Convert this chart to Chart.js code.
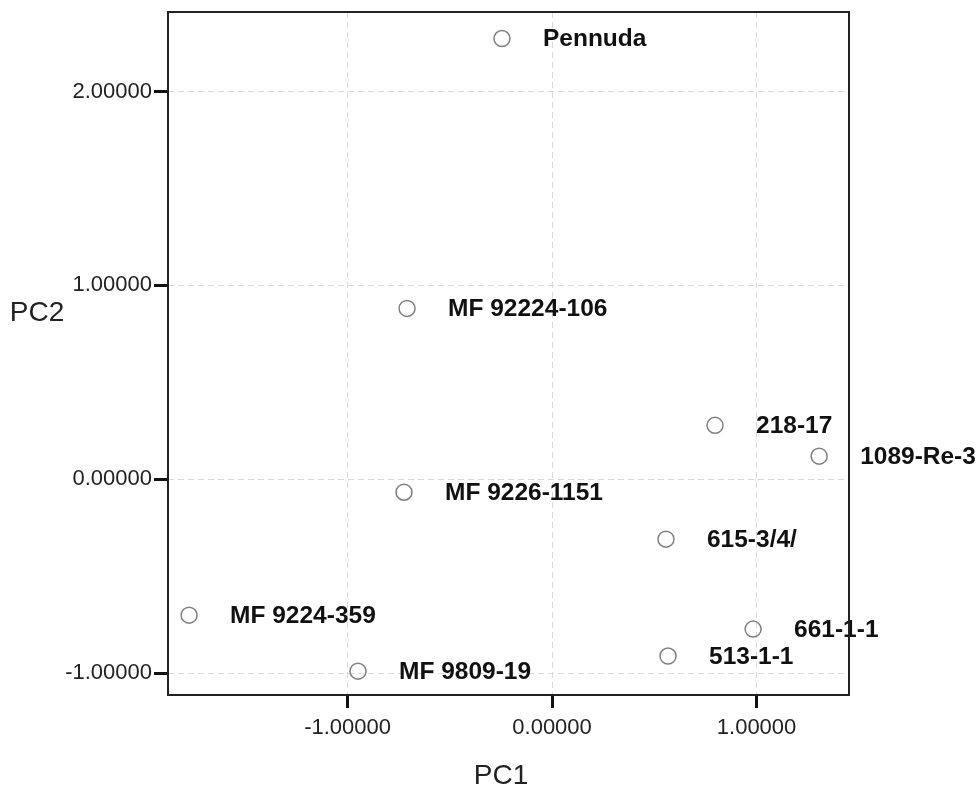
<!DOCTYPE html>
<html>
<head>
<meta charset="utf-8">
<script src="https://cdn.jsdelivr.net/npm/chart.js@4"></script>
<style>
  html, body { margin: 0; padding: 0; background: #fff; }
  #wrap { width: 979px; height: 790px; }
</style>
</head>
<body>
<div id="wrap"><canvas id="chart" width="979" height="790"></canvas></div>
<script>
const NAMES = ['Pennuda', 'MF 92224-106', '218-17', '1089-Re-3', 'MF 9226-1151', '615-3/4/', 'MF 9224-359', 'MF 9809-19', '661-1-1', '513-1-1'];
const PC1 = [-0.245, -0.709, 0.797, 1.306, -0.724, 0.557, -1.775, -0.949, 0.983, 0.567];
const PC2 = [2.273, 0.881, 0.278, 0.119, -0.067, -0.309, -0.701, -0.990, -0.773, -0.912];
const X_TICKS = [-1, 0, 1];
const Y_TICKS = [-1, 0, 1, 2];

const FONT = '"Liberation Sans", Arial, sans-serif';

const labelPlugin = {
    id: 'pointLabels',
    afterDatasetsDraw(chart) {
        const ctx = chart.ctx;
        const meta = chart.getDatasetMeta(0);
        ctx.save();
        ctx.font = 'bold 24.5px ' + FONT;
        ctx.fillStyle = '#111';
        ctx.textAlign = 'left';
        ctx.textBaseline = 'middle';
        meta.data.forEach((pt, i) => {
            ctx.fillText(NAMES[i], pt.x + 41, pt.y + 1);
        });
        ctx.restore();
    },
    afterDraw(chart) {
        const ctx = chart.ctx;
        const a = chart.chartArea;
        ctx.save();
        ctx.strokeStyle = '#222';
        ctx.lineWidth = 2;
        ctx.strokeRect(a.left, a.top, a.right - a.left, a.bottom - a.top);
        ctx.font = '28px ' + FONT;
        ctx.fillStyle = '#222';
        ctx.textAlign = 'center';
        ctx.textBaseline = 'middle';
        ctx.fillText('PC2', 37, 313);
        ctx.fillText('PC1', 501, 776);
        ctx.restore();
    }
};

new Chart(document.getElementById('chart'), {
    type: 'scatter',
    data: {
        datasets: [{
            data: PC1.map((x, i) => ({ x, y: PC2[i] })),
            pointStyle: 'circle',
            pointRadius: 8,
            pointBorderWidth: 1.5,
            pointBorderColor: '#808080',
            pointBackgroundColor: 'rgba(255,255,255,0)',
        }],
    },
    options: {
        responsive: false,
        animation: false,
        layout: { padding: { top: 12, right: 130, left: 0, bottom: 0 } },
        plugins: { legend: { display: false }, tooltip: { enabled: false } },
        scales: {
            x: {
                type: 'linear',
                min: -1.878,
                max: 1.452,
                afterBuildTicks: s => { s.ticks = X_TICKS.map(v => ({ value: v })); },
                afterFit: s => { s.height = 95; s.paddingLeft = 0; s.paddingRight = 0; },
                ticks: {
                    color: '#222',
                    padding: 7,
                    font: { family: FONT, size: 22 },
                    callback: v => v.toFixed(5),
                },
                grid: {
                    color: '#d9d9d9',
                    lineWidth: 1,
                    tickColor: '#111',
                    tickWidth: 3,
                    tickLength: 13,
                    tickBorderDash: [],
                },
                border: { display: false, dash: [6, 4] },
            },
            y: {
                type: 'linear',
                min: -1.113,
                max: 2.41,
                afterBuildTicks: s => { s.ticks = Y_TICKS.map(v => ({ value: v })); },
                afterFit: s => { s.width = 168; s.paddingTop = 0; s.paddingBottom = 0; },
                ticks: {
                    color: '#222',
                    padding: 2,
                    font: { family: FONT, size: 22 },
                    callback: v => v.toFixed(5),
                },
                grid: {
                    color: '#d9d9d9',
                    lineWidth: 1,
                    tickColor: '#111',
                    tickWidth: 3,
                    tickLength: 14,
                    tickBorderDash: [],
                },
                border: { display: false, dash: [6, 4] },
            },
        },
    },
    plugins: [labelPlugin],
});
</script>
</body>
</html>
